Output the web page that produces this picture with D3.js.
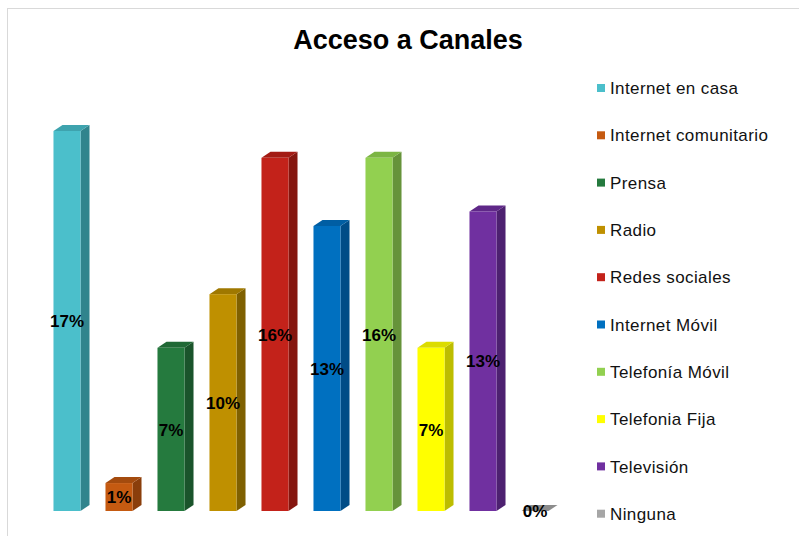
<!DOCTYPE html>
<html>
<head>
<meta charset="utf-8">
<script src="https://cdn.jsdelivr.net/npm/d3@7"></script>
<style>
  html, body { margin: 0; padding: 0; background: #fff; }
  svg { display: block; }
</style>
</head>
<body>
<svg id="chart" width="799" height="536"></svg>
<script>
// Share of respondents per access channel (fraction of total)
const categories = [
  "Internet en casa", "Internet comunitario", "Prensa", "Radio", "Redes sociales",
  "Internet Móvil", "Telefonía Móvil", "Telefonia Fija", "Televisión", "Ninguna"
];
const values = [0.170, 0.0125, 0.073, 0.097, 0.158, 0.1275, 0.158, 0.073, 0.134, 0.0];
const frontColors = ["#4BBFCB", "#C55A11", "#257A3E", "#BF9000", "#C3221A",
                     "#0070C0", "#92D050", "#FFFF00", "#7030A0", "#A6A6A6"];
const sideColors  = ["#31848D", "#8A3E0B", "#1A542B", "#7F6000", "#85160F",
                     "#004C87", "#66933A", "#BDBD00", "#4D2170", "#7F7F7F"];
const topColors   = ["#3EA3AE", "#A44B0E", "#206835", "#9F7800", "#A31B14",
                     "#005EA3", "#7CB544", "#DCDC00", "#5F2888", "#8C8C8C"];

const svg = d3.select("#chart");
const W = 799, H = 536;
const FONT = "Arial, 'Liberation Sans', sans-serif";

// outer chart frame
svg.append("rect")
  .attr("x", 7.5).attr("y", 8.5)
  .attr("width", W).attr("height", H)
  .attr("fill", "#fff").attr("stroke", "#D9D9D9").attr("stroke-width", 1);

svg.append("text")
  .attr("x", 408).attr("y", 49)
  .attr("text-anchor", "middle")
  .attr("font-family", FONT)
  .attr("font-weight", "bold")
  .attr("font-size", 27)
  .attr("fill", "#000")
  .text("Acceso a Canales");

const x = d3.scaleBand()
  .domain(categories)
  .range([41, 561])
  .paddingInner(0.48)
  .paddingOuter(0.24);

const y = d3.scaleLinear()
  .domain([0, 0.170])
  .range([511, 131]);

const dx = 9, dy = 6;
const w = x.bandwidth();

const bars = svg.append("g").selectAll("g")
  .data(categories.map((c, i) => ({ c, v: values[i], i })))
  .join("g");

// side face
bars.append("path")
  .attr("fill", d => sideColors[d.i])
  .attr("d", d => {
    const x0 = x(d.c) + w, t = y(d.v), b = y(0);
    return `M${x0},${t}L${x0 + dx},${t - dy}L${x0 + dx},${b - dy}L${x0},${b}Z`;
  });

// top face
bars.append("path")
  .attr("fill", d => topColors[d.i])
  .attr("d", d => {
    const x0 = x(d.c), t = y(d.v);
    return `M${x0},${t}L${x0 + dx},${t - dy}L${x0 + w + dx},${t - dy}L${x0 + w},${t}Z`;
  });

// front face
bars.append("rect")
  .attr("x", d => x(d.c))
  .attr("y", d => y(d.v))
  .attr("width", w)
  .attr("height", d => y(0) - y(d.v))
  .attr("fill", d => frontColors[d.i]);

// value labels centred on the front face
bars.append("text")
  .attr("x", d => x(d.c) + w / 2)
  .attr("y", d => (y(d.v) + y(0)) / 2)
  .attr("dy", "0.36em")
  .attr("text-anchor", "middle")
  .attr("font-family", FONT)
  .attr("font-weight", "bold")
  .attr("font-size", 17)
  .attr("fill", "#000")
  .text(d => d3.format(".0%")(d.v));

// legend
const legend = svg.append("g").selectAll("g")
  .data(categories.map((c, i) => ({ c, i })))
  .join("g")
  .attr("transform", d => `translate(597, ${88 + d.i * 47.3})`);

legend.append("rect")
  .attr("x", 0).attr("y", -4)
  .attr("width", 8).attr("height", 8)
  .attr("fill", d => frontColors[d.i]);

legend.append("text")
  .attr("x", 13).attr("y", 0)
  .attr("dy", "0.36em")
  .attr("font-family", FONT)
  .attr("font-size", 17)
  .attr("letter-spacing", 0.4)
  .attr("fill", "#111")
  .text(d => d.c);
</script>
</body>
</html>
